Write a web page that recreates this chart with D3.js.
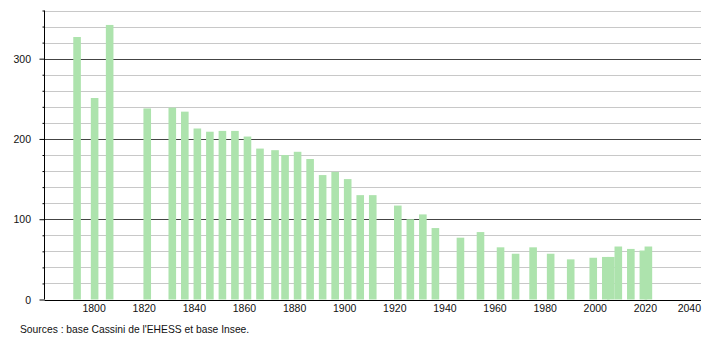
<!DOCTYPE html>
<html lang="fr">
<head>
    <meta charset="UTF-8">
    <title>Population</title>
    <script src="https://cdn.jsdelivr.net/npm/d3@7/dist/d3.min.js"></script>
    <style>
        body { margin: 0; background: #fff; }
        svg { display: block; font-family: "Liberation Sans", Arial, sans-serif; }
    </style>
</head>
<body>
<div id="chart"></div>
<script>
// census years and population
const years = [1793, 1800, 1806, 1821, 1831, 1836, 1841, 1846, 1851, 1856,
    1861, 1866, 1872, 1876, 1881, 1886, 1891, 1896, 1901, 1906,
    1911, 1921, 1926, 1931, 1936, 1946, 1954, 1962, 1968, 1975,
    1982, 1990, 1999, 2004, 2006, 2009, 2014, 2019, 2021];
const population = [327, 251, 342, 238, 239, 234, 213, 209, 210, 210,
    203, 188, 186, 180, 184, 175, 155, 159, 150, 130,
    130, 117, 100, 106, 89, 77, 84, 65, 57, 65,
    57, 50, 52, 53, 53, 66, 63, 61, 66];
const xTicks = [1800, 1820, 1840, 1860, 1880, 1900, 1920, 1940, 1960, 1980, 2000, 2020, 2040];
const yTicks = [0, 100, 200, 300];
const source = "Sources : base Cassini de l'EHESS et base Insee.";

const width = 710, height = 340;
const svg = d3.select("#chart").append("svg")
    .attr("width", width)
    .attr("height", height);

const x = d3.scaleLinear().domain([1780, 2042]).range([44.5, 701]);
const y = d3.scaleLinear().domain([0, 360]).range([299.5, 10.5]);

// grid lines every 20, darker at each hundred
const grid = d3.range(20, 361, 20);
svg.append("g").selectAll("line")
    .data(grid)
    .enter()
    .append("line")
    .attr("x1", x(1780))
    .attr("x2", x(2042))
    .attr("y1", d => Math.round(y(d)) + 0.5)
    .attr("y2", d => Math.round(y(d)) + 0.5)
    .attr("stroke", d => d % 100 === 0 ? "#444" : "#c8c8c8")
    .attr("stroke-width", 1);

// bars
svg.append("g").selectAll("rect")
    .data(years.map((yr, i) => ({ year: yr, pop: population[i] })))
    .enter()
    .append("rect")
    .attr("x", d => x(d.year) - 3.8)
    .attr("width", 7.6)
    .attr("y", d => y(d.pop))
    .attr("height", d => y(0) - y(d.pop))
    .attr("fill", "#ade3ad");

// y axis: long ticks at hundreds, short ones every 20
const yAxis = svg.append("g")
    .attr("transform", "translate(44.5,0)")
    .call(d3.axisLeft(y).tickValues(d3.range(0, 361, 20)).tickSize(2).tickFormat(""))
    .call(g => g.select(".domain").attr("d", `M0,${y(0)}V${y(360)}`));
yAxis.selectAll(".tick line")
    .attr("x2", d => d % 100 === 0 ? -5 : -2);

svg.append("g").selectAll("text")
    .data(yTicks)
    .enter()
    .append("text")
    .attr("x", 31)
    .attr("y", d => y(d) + 4)
    .attr("text-anchor", "end")
    .attr("font-size", "10.5px")
    .attr("fill", "#111")
    .text(d => d);

// x axis line and labels (no tick marks)
svg.append("line")
    .attr("x1", x(1780))
    .attr("x2", x(2042))
    .attr("y1", 300.5)
    .attr("y2", 300.5)
    .attr("stroke", "#000");

svg.append("g").selectAll("text")
    .data(xTicks)
    .enter()
    .append("text")
    .attr("x", d => d === 2040 ? x(2042) : x(d) - 0.5)
    .attr("y", 312)
    .attr("text-anchor", d => d === 2040 ? "end" : "middle")
    .attr("font-size", "10.5px")
    .attr("fill", "#111")
    .text(d => d);

svg.append("text")
    .attr("x", 20)
    .attr("y", 333)
    .attr("font-size", "10.3px")
    .attr("fill", "#111")
    .text(source);
</script>
</body>
</html>
